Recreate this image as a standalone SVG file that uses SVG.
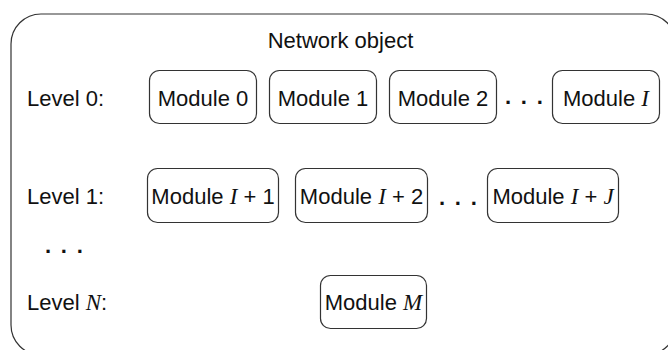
<svg xmlns="http://www.w3.org/2000/svg" width="668" height="350" viewBox="0 0 668 350">
<style>
.box{fill:#fff;stroke:#333;stroke-width:1.2}
.t{font-family:"Liberation Sans",Arial,sans-serif;font-size:22px;fill:#111}
.m{text-anchor:middle}
.v{font-family:"Liberation Serif","Times New Roman",serif;font-style:italic;font-size:23px}
.dots{font-family:"Liberation Sans",Arial,sans-serif;font-size:22px;font-weight:bold;fill:#111;letter-spacing:1.2px}
</style>
<rect width="668" height="350" fill="#fff"/>
<g id="network">
<rect x="11" y="14" width="665" height="341" rx="30" ry="30" fill="none" stroke="#333" stroke-width="1.2"/>
<text class="t m" x="340.5" y="47.5">Network object</text>
</g>
<g id="labels">
<text class="t" x="27" y="106">Level 0:</text>
<text class="t" x="27" y="204">Level 1:</text>
<text class="t" x="27" y="310">Level <tspan class="v">N</tspan>:</text>
<text class="dots" x="45" y="259">· · ·</text>
<text class="dots" x="505" y="110">· · ·</text>
<text class="dots" x="439" y="211">· · ·</text>
</g>
<g id="module0"><rect class="box" x="149.5" y="70.5" width="107" height="53" rx="10"/><text class="t m" x="203" y="106">Module 0</text></g>
<g id="module1"><rect class="box" x="269.5" y="70.5" width="107" height="53" rx="10"/><text class="t m" x="323" y="106">Module 1</text></g>
<g id="module2"><rect class="box" x="389.5" y="70.5" width="107" height="53" rx="10"/><text class="t m" x="443" y="106">Module 2</text></g>
<g id="moduleI"><rect class="box" x="552.5" y="70.5" width="107" height="53" rx="10"/><text class="t m" x="606" y="106">Module <tspan class="v">I</tspan></text></g>
<g id="moduleI1"><rect class="box" x="147.5" y="168.5" width="131" height="54" rx="10"/><text class="t m" x="213" y="204">Module <tspan class="v">I</tspan> + 1</text></g>
<g id="moduleI2"><rect class="box" x="295.5" y="168.5" width="132" height="54" rx="10"/><text class="t m" x="361.5" y="204">Module <tspan class="v">I</tspan> + 2</text></g>
<g id="moduleIJ"><rect class="box" x="487.5" y="168.5" width="131" height="54" rx="10"/><text class="t m" x="553" y="204">Module <tspan class="v">I</tspan> + <tspan class="v">J</tspan></text></g>
<g id="moduleM"><rect class="box" x="320.5" y="275.5" width="106" height="53" rx="10"/><text class="t m" x="373.5" y="310">Module <tspan class="v">M</tspan></text></g>
<g id="connectors"/>
</svg>
